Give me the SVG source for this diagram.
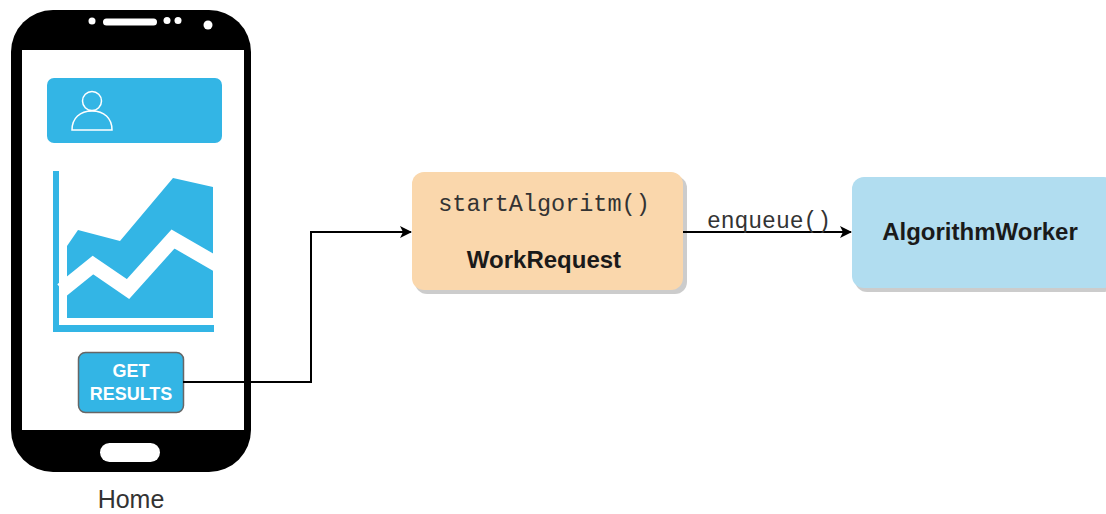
<svg xmlns="http://www.w3.org/2000/svg" width="1106" height="514" viewBox="0 0 1106 514">
  <style>
    .blue { fill: #33b5e5; }
    .mono { font-family: "Liberation Mono", "Courier New", monospace; fill: #333333; }
    .sans { font-family: "Liberation Sans", Arial, Helvetica, sans-serif; }
    .title { font-size: 24px; font-weight: bold; fill: #1a1a1a; }
    .edge { fill: none; stroke: #000000; stroke-width: 2; }
    .shadow { fill: #000000; opacity: 0.2; }
  </style>
  <defs>
    <marker id="arrow" viewBox="0 0 12 12" refX="11" refY="6" markerWidth="12" markerHeight="12" markerUnits="userSpaceOnUse" orient="auto">
      <path d="M0,0 L12,6 L0,12 L3,6 Z" fill="#000000"/>
    </marker>
  </defs>
  <rect width="1106" height="514" fill="#ffffff"/>

  <!-- Phone mock-up -->
  <g id="home">
    <rect x="11" y="10" width="240" height="462" rx="42" fill="#000000"/>
    <rect x="22" y="50" width="222" height="380" fill="#ffffff"/>
    <!-- earpiece, sensors and camera -->
    <circle cx="92" cy="21" r="3.5" fill="#ffffff"/>
    <rect x="103" y="18.5" width="54" height="7" rx="3.5" fill="#ffffff"/>
    <circle cx="167" cy="20.5" r="3.5" fill="#ffffff"/>
    <circle cx="178" cy="20.5" r="3.5" fill="#ffffff"/>
    <circle cx="208" cy="25" r="4.5" fill="#ffffff"/>
    <!-- home key -->
    <rect x="100" y="443" width="60" height="19" rx="9.5" fill="#ffffff"/>
    <!-- profile header -->
    <rect class="blue" x="47" y="78" width="175" height="65" rx="7"/>
    <circle cx="92" cy="101" r="9.5" fill="none" stroke="#ffffff" stroke-width="1.5"/>
    <path d="M72,130 C72,118 80,111 92,111 C104,111 112,118 112,130 Z" fill="none" stroke="#ffffff" stroke-width="1.5"/>
    <!-- chart -->
    <rect class="blue" x="53" y="171" width="6" height="161"/>
    <rect class="blue" x="53" y="325" width="161" height="7"/>
    <path class="blue" d="M67,246 L78,230 L120,241 L173,178 L213,187 L213,318 L67,318 Z"/>
    <polyline points="62,290 93,265 128,289 173,239 218,265" fill="none" stroke="#ffffff" stroke-width="15"/>
  </g>

  <g id="get-results">
    <rect class="blue" x="78.5" y="352.5" width="105" height="60" rx="7" stroke="#666666" stroke-width="1.5"/>
    <text class="sans" x="131" y="377" font-size="18" font-weight="bold" fill="#ffffff" text-anchor="middle">GET</text>
    <text class="sans" x="131" y="400" font-size="18" font-weight="bold" fill="#ffffff" text-anchor="middle">RESULTS</text>
  </g>

  <g id="home-label">
    <text class="sans" x="131" y="508" font-size="25" fill="#333333" text-anchor="middle">Home</text>
  </g>

  <!-- WorkRequest node -->
  <g id="work-request">
    <rect class="shadow" x="415" y="176" width="272" height="118" rx="12"/>
    <rect x="412" y="172" width="271" height="118" rx="12" fill="#fad7ac"/>
    <text class="mono" x="544" y="211" font-size="23.5" text-anchor="middle">startAlgoritm()</text>
    <text class="sans title" x="544" y="268" text-anchor="middle">WorkRequest</text>
  </g>

  <!-- AlgorithmWorker node -->
  <g id="algorithm-worker">
    <rect class="shadow" x="855" y="181" width="260" height="111" rx="12"/>
    <rect x="852" y="177" width="264" height="111" rx="12" fill="#b1ddf0"/>
    <text class="sans title" x="980" y="240" text-anchor="middle">AlgorithmWorker</text>
  </g>

  <!-- Connectors -->
  <g id="connectors">
    <path class="edge" d="M183,382 L311,382 L311,232 L411,232" marker-end="url(#arrow)"/>
    <path class="edge" d="M683,232 L851,232" marker-end="url(#arrow)"/>
    <text class="mono" x="769" y="228" font-size="23" text-anchor="middle">enqueue()</text>
  </g>
</svg>
